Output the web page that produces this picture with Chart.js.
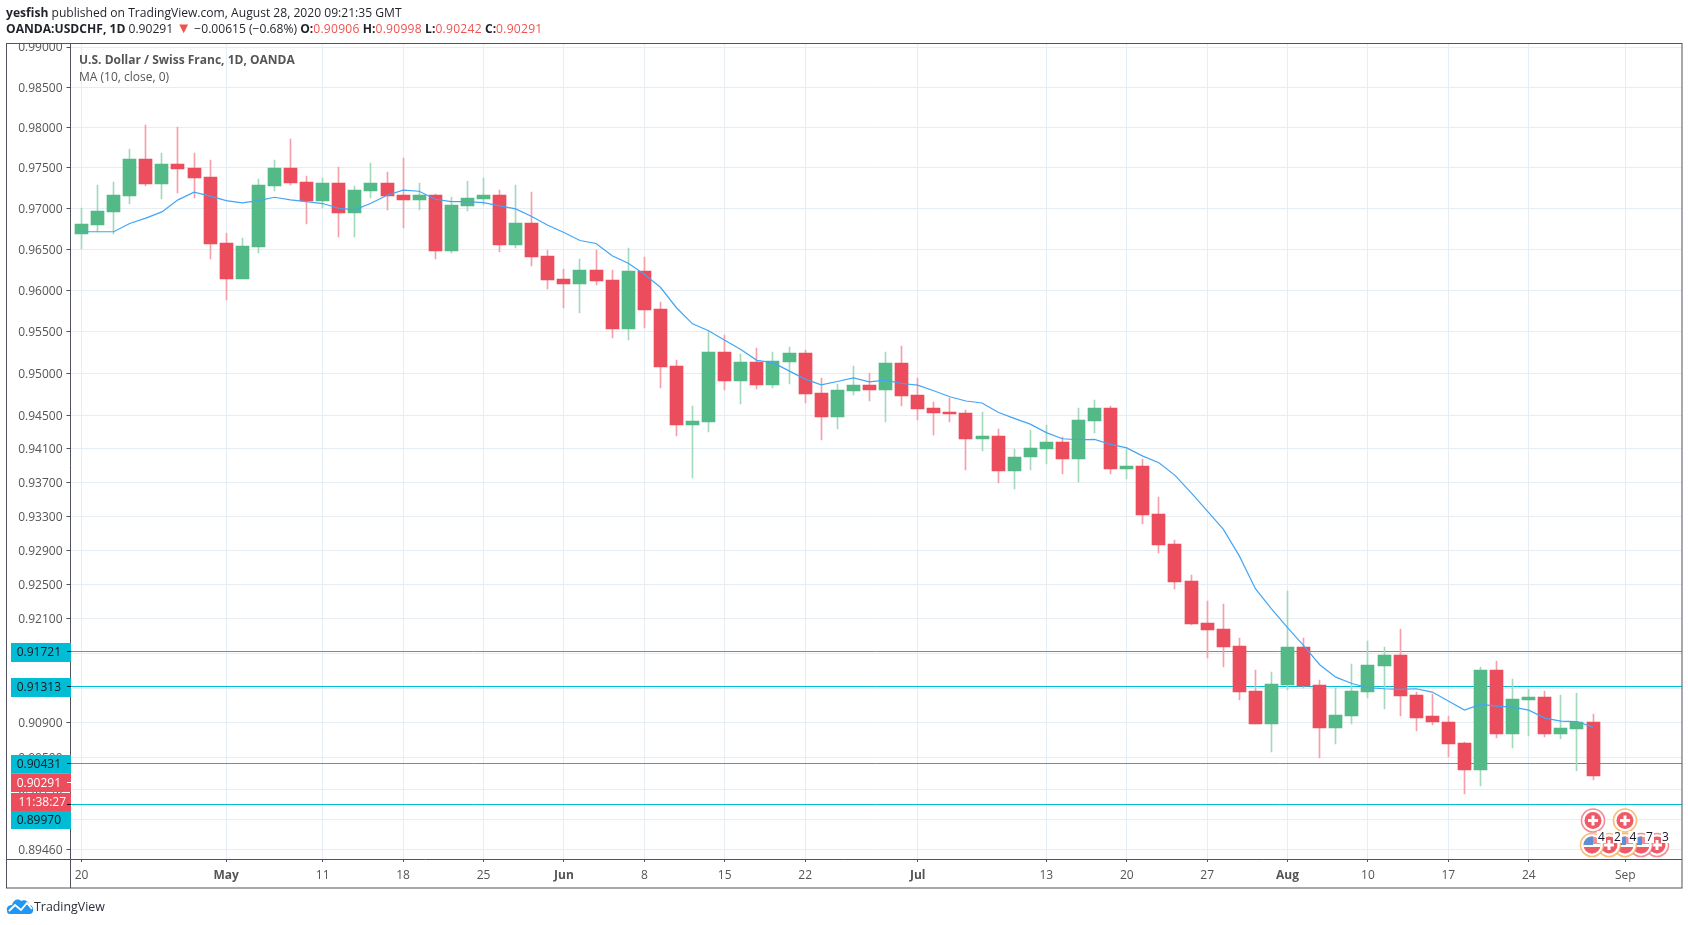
<!DOCTYPE html>
<html>
<head>
<meta charset="utf-8">
<title>OANDA:USDCHF</title>
<script src="https://cdn.jsdelivr.net/npm/chart.js@4"></script>
<style>
  html, body { margin: 0; padding: 0; background: #fff; width: 1688px; height: 925px; overflow: hidden; }
  body { font-family: "Open Sans", sans-serif; color: #1f2229; position: relative; }
  canvas { position: absolute; left: 0; top: 0; }
  .line { position: absolute; left: 6px; font-size: 12.1px; white-space: nowrap; line-height: 16px; }
  .red { color: #ef5350; letter-spacing: 0.25px; }
  .arrow { font-size: 15px; line-height: 12px; letter-spacing: 0; }
  #logo { position: absolute; left: 6px; top: 897px; }
  #logoText { position: absolute; left: 34px; top: 897px; font-size: 12.4px; line-height: 20px; color: #2a2e39; }
</style>
</head>
<body>
<canvas id="chart" width="1688" height="925"></canvas>
<div class="line" style="top:5px"><b>yesfish</b> published on TradingView.com, August 28, 2020 09:21:35 GMT</div>
<div class="line" style="top:21px"><b>OANDA:USDCHF, 1D</b> 0.90291 <span class="red arrow">▼</span> −0.00615 (−0.68%) <b>O:</b><span class="red">0.90906</span> <b>H:</b><span class="red">0.90998</span> <b>L:</b><span class="red">0.90242</span> <b>C:</b><span class="red">0.90291</span></div>
<svg id="logo" width="28" height="18" viewBox="0 0 28 18">
  <path d="M1 14 C0 10 3 8 6 8 C7 3 12 1 15 4 C18 2 23 4 23 8 C26 8 28 11 27 14 C27 16 25 17 24 17 L4 17 C2 17 1 16 1 14 Z" fill="#2196f3"/>
  <path d="M3 14 L9 8 L15 13 L21 6 L26 12" fill="none" stroke="#fff" stroke-width="1.8"/>
</svg>
<div id="logoText">TradingView</div>
<script>
// daily candles from 20 Apr 2020 to 28 Aug 2020
const opens = [
  0.96688, 0.96798, 0.96960, 0.97157, 0.97610, 0.97300, 0.97545, 0.97496, 0.97385, 0.96579,
  0.96141, 0.96530, 0.97274, 0.97496, 0.97324, 0.97090, 0.97312, 0.96943, 0.97213, 0.97312,
  0.97164, 0.97103, 0.97164, 0.96482, 0.97028, 0.97115, 0.97164, 0.96555, 0.96822, 0.96419,
  0.96138, 0.96077, 0.96248, 0.96126, 0.95541, 0.96236, 0.95772, 0.95087, 0.94383, 0.94419,
  0.95254, 0.94909, 0.95135, 0.94861, 0.95135, 0.95242, 0.94766, 0.94480, 0.94790, 0.94861,
  0.94802, 0.95123, 0.94742, 0.94587, 0.94540, 0.94528, 0.94213, 0.94250, 0.93833, 0.93998,
  0.94104, 0.94177, 0.93986, 0.94431, 0.94589, 0.93857, 0.93892, 0.93328, 0.92975, 0.92539,
  0.92057, 0.91987, 0.91789, 0.91262, 0.90892, 0.91331, 0.91778, 0.91331, 0.90835, 0.90973,
  0.91250, 0.91559, 0.91685, 0.91215, 0.90973, 0.90915, 0.90664, 0.90365, 0.91513, 0.90767,
  0.91158, 0.91192, 0.90767, 0.90824, 0.90906,
];
const highs = [
  0.97012, 0.97288, 0.97325, 0.97730, 0.98030, 0.97680, 0.98000, 0.97680, 0.97595, 0.96700,
  0.96640, 0.97360, 0.97595, 0.97853, 0.97398, 0.97373, 0.97508, 0.97275, 0.97558, 0.97447,
  0.97620, 0.97312, 0.97176, 0.97139, 0.97336, 0.97373, 0.97226, 0.97287, 0.97201, 0.96500,
  0.96260, 0.96382, 0.96492, 0.96248, 0.96516, 0.96407, 0.95858, 0.95159, 0.94611, 0.95516,
  0.95468, 0.95230, 0.95302, 0.95254, 0.95314, 0.95278, 0.94944, 0.94873, 0.95087, 0.95004,
  0.95254, 0.95326, 0.94944, 0.94659, 0.94706, 0.94564, 0.94540, 0.94334, 0.94104, 0.94322,
  0.94383, 0.94237, 0.94589, 0.94686, 0.94613, 0.94100, 0.93986, 0.93527, 0.93022, 0.92610,
  0.92304, 0.92280, 0.91883, 0.91513, 0.91490, 0.92422, 0.91883, 0.91388, 0.91296, 0.91582,
  0.91845, 0.91778, 0.91987, 0.91250, 0.91227, 0.90973, 0.90675, 0.91548, 0.91616, 0.91399,
  0.91285, 0.91262, 0.91215, 0.91238, 0.90998,
];
const lows = [
  0.96506, 0.96708, 0.96688, 0.97053, 0.97280, 0.97115, 0.97197, 0.97127, 0.96384, 0.95886,
  0.96141, 0.96457, 0.97213, 0.97287, 0.96810, 0.97004, 0.96652, 0.96652, 0.97127, 0.96980,
  0.96761, 0.96980, 0.96384, 0.96457, 0.96968, 0.97041, 0.96470, 0.96518, 0.96299, 0.96016,
  0.95785, 0.95724, 0.96065, 0.95431, 0.95407, 0.95553, 0.94825, 0.94250, 0.93751, 0.94298,
  0.94802, 0.94635, 0.94813, 0.94825, 0.94873, 0.94647, 0.94201, 0.94334, 0.94742, 0.94670,
  0.94419, 0.94611, 0.94443, 0.94266, 0.94419, 0.93845, 0.94080, 0.93692, 0.93622, 0.93845,
  0.93916, 0.93806, 0.93712, 0.94286, 0.93798, 0.93739, 0.93210, 0.92869, 0.92445, 0.92034,
  0.91650, 0.91548, 0.91158, 0.90881, 0.90561, 0.91273, 0.91296, 0.90492, 0.90652, 0.90881,
  0.91181, 0.91061, 0.90977, 0.90812, 0.90870, 0.90504, 0.90087, 0.90179, 0.90721, 0.90607,
  0.90744, 0.90732, 0.90710, 0.90353, 0.90242,
];
const closes = [
  0.96810, 0.96968, 0.97165, 0.97610, 0.97300, 0.97545, 0.97484, 0.97373, 0.96567, 0.96141,
  0.96542, 0.97287, 0.97496, 0.97312, 0.97090, 0.97312, 0.96943, 0.97226, 0.97312, 0.97152,
  0.97103, 0.97164, 0.96482, 0.97041, 0.97127, 0.97164, 0.96555, 0.96822, 0.96409, 0.96126,
  0.96077, 0.96248, 0.96114, 0.95541, 0.96236, 0.95760, 0.95075, 0.94383, 0.94431, 0.95254,
  0.94909, 0.95135, 0.94861, 0.95147, 0.95242, 0.94754, 0.94480, 0.94802, 0.94861, 0.94802,
  0.95123, 0.94730, 0.94575, 0.94528, 0.94516, 0.94213, 0.94250, 0.93833, 0.94009, 0.94116,
  0.94177, 0.93986, 0.94443, 0.94589, 0.93857, 0.93892, 0.93316, 0.92963, 0.92528, 0.92046,
  0.91976, 0.91778, 0.91250, 0.90892, 0.91342, 0.91778, 0.91319, 0.90835, 0.90985, 0.91262,
  0.91570, 0.91685, 0.91204, 0.90961, 0.90904, 0.90652, 0.90365, 0.91513, 0.90767, 0.91169,
  0.91192, 0.90767, 0.90835, 0.90915, 0.90291,
];
const maValues = [
  0.96717, 0.96717, 0.96717, 0.96818, 0.96883, 0.96960, 0.97107, 0.97201, 0.97152, 0.97098,
  0.97070, 0.97098, 0.97139, 0.97107, 0.97086, 0.97062, 0.97004, 0.96984, 0.97066, 0.97164,
  0.97226, 0.97213, 0.97115, 0.97086, 0.97086, 0.97074, 0.97033, 0.96996, 0.96903, 0.96797,
  0.96707, 0.96610, 0.96573, 0.96423, 0.96333, 0.96199, 0.96041, 0.95793, 0.95598, 0.95516,
  0.95401, 0.95290, 0.95159, 0.95131, 0.95032, 0.94933, 0.94865, 0.94905, 0.94948, 0.94901,
  0.94921, 0.94881, 0.94861, 0.94794, 0.94722, 0.94671, 0.94647, 0.94536, 0.94464, 0.94395,
  0.94294, 0.94221, 0.94209, 0.94213, 0.94153, 0.94112, 0.94014, 0.93935, 0.93786, 0.93582,
  0.93367, 0.93151, 0.92837, 0.92453, 0.92218, 0.91999, 0.91790, 0.91570, 0.91426, 0.91353,
  0.91304, 0.91292, 0.91285, 0.91292, 0.91254, 0.91150, 0.91046, 0.91112, 0.91092, 0.91081,
  0.91046, 0.90954, 0.90919, 0.90915, 0.90850,
];

const levels = [0.91721, 0.91313, 0.90431, 0.89970];
const yTicks = [0.99, 0.985, 0.98, 0.975, 0.97, 0.965, 0.96, 0.955, 0.95, 0.945, 0.941, 0.937,
  0.933, 0.929, 0.925, 0.921, 0.917, 0.913, 0.909, 0.905, 0.9014, 0.898, 0.8946];
const xTickBars = [0, 9, 15, 20, 25, 30, 35, 40, 45, 52, 60, 65, 70, 75, 80, 85, 90, 96];
const xTickLabels = ["20", "May", "11", "18", "25", "Jun", "8", "15", "22", "Jul", "13", "20", "27", "Aug", "10", "17", "24", "Sep"];
const boldMonths = ["May", "Jun", "Jul", "Aug"];

const xMin = -0.684;
const xMax = 99.53;
const up = "#53b987";
const down = "#eb4d5c";
const upWick = "#a3d9bd";
const downWick = "#f5a0a9";
const cyan = "#00bcd4";
const gridCol = "#e6eef3";
const frameCol = "#50535e";
const font = '"Open Sans", sans-serif';

// snap candles and level lines to whole pixels, otherwise they go blurry
const snapMarks = {
  id: "snapMarks",
  beforeDatasetsDraw(chart) {
    chart.data.datasets.forEach((ds, i) => {
      const meta = chart.getDatasetMeta(i);
      if (ds.snap === "bar") {
        meta.data.forEach((el) => {
          el.x = Math.floor(el.x) + 0.5;
          el.y = Math.round(el.y);
          el.base = Math.round(el.base);
        });
      }
      if (ds.snap === "line") {
        meta.data.forEach((el) => { el.y = Math.floor(el.y) + 0.5; });
      }
    });
  },
};

function priceBox(ctx, y0, y1, bg, fg, text) {
  ctx.fillStyle = bg;
  ctx.fillRect(11, y0, 60, y1 - y0);
  ctx.fillStyle = fg;
  ctx.font = "12px " + font;
  ctx.textAlign = "right";
  ctx.textBaseline = "middle";
  ctx.fillText(text, text.includes(":") ? 66 : 61, (y0 + y1) / 2 + 0.5);
}

function eventIcon(ctx, x, y, ring, kind) {
  ctx.save();
  ctx.fillStyle = "#fff";
  ctx.beginPath();
  ctx.arc(x, y, 11.5, 0, Math.PI * 2);
  ctx.fill();
  ctx.strokeStyle = ring;
  ctx.lineWidth = 1.6;
  ctx.globalAlpha = 0.7;
  ctx.stroke();
  ctx.globalAlpha = 1;
  ctx.beginPath();
  ctx.arc(x, y, 8.5, 0, Math.PI * 2);
  ctx.clip();
  if (kind === "flag") {
    ctx.fillStyle = "#f28b95";
    ctx.fillRect(x - 9, y - 9, 18, 18);
    ctx.fillStyle = "#fff";
    ctx.fillRect(x - 9, y - 1, 18, 3);
    ctx.fillStyle = "#ef5a68";
    ctx.fillRect(x - 9, y + 2, 18, 7);
    ctx.fillStyle = "#5b8fd8";
    ctx.fillRect(x - 9, y - 9, 10, 9);
  } else {
    ctx.fillStyle = "#ef5a68";
    ctx.fillRect(x - 9, y - 9, 18, 18);
    ctx.fillStyle = "#fff";
    ctx.fillRect(x - 5, y - 1.5, 10, 3);
    ctx.fillRect(x - 1.5, y - 5, 3, 10);
  }
  ctx.restore();
}

const overlay = {
  id: "overlay",
  afterDraw(chart) {
    const ctx = chart.ctx;
    const y = chart.scales.y;
    ctx.save();

    // the top tick label is cut by the frame
    ctx.clearRect(0, 0, 1688, 43);

    ctx.strokeStyle = frameCol;
    ctx.lineWidth = 1;
    ctx.strokeRect(6.5, 43.5, 1675.5, 844.5);
    ctx.beginPath();
    ctx.moveTo(70.5, 43.5);
    ctx.lineTo(70.5, 888);
    ctx.moveTo(6.5, 859.5);
    ctx.lineTo(1682, 859.5);
    ctx.stroke();

    ctx.fillStyle = "#555";
    ctx.textAlign = "left";
    ctx.textBaseline = "middle";
    ctx.font = "bold 12px " + font;
    ctx.fillText("U.S. Dollar / Swiss Franc, 1D, OANDA", 79, 61);
    ctx.font = "12px " + font;
    ctx.fillText("MA (10, close, 0)", 79, 78);

    // price labels on the axis
    priceBox(ctx, 643, 662, cyan, "#131722", levels[0].toFixed(5));
    priceBox(ctx, 678, 697, cyan, "#131722", levels[1].toFixed(5));
    priceBox(ctx, 755, 773.5, cyan, "#131722", levels[2].toFixed(5));
    priceBox(ctx, 811, 829, cyan, "#131722", levels[3].toFixed(5));
    priceBox(ctx, 773.5, 792, down, "#fff", closes[closes.length - 1].toFixed(5));
    priceBox(ctx, 793, 811, down, "#fff", "11:38:27");

    // ticks next to the labels
    ctx.fillStyle = "#131722";
    levels.forEach((v) => ctx.fillRect(67, Math.floor(y.getPixelForValue(v)), 4, 1));
    ctx.fillStyle = "#fff";
    ctx.fillRect(67, 782, 4, 1);

    // event markers bottom right
    eventIcon(ctx, 1593, 820.5, "#ef5a68", "plus");
    eventIcon(ctx, 1625, 820.5, "#f7a23b", "plus");
    eventIcon(ctx, 1657, 845, "#ef5a68", "plus");
    eventIcon(ctx, 1641, 845, "#ef5a68", "flag");
    eventIcon(ctx, 1625, 845, "#f7a23b", "flag");
    eventIcon(ctx, 1609, 845, "#f7a23b", "plus");
    eventIcon(ctx, 1592, 845, "#f7a23b", "flag");
    ctx.font = "12px " + font;
    ctx.textAlign = "center";
    [[1601.5, "4"], [1617.5, "2"], [1633, "4"], [1649.5, "7"], [1665.5, "3"]].forEach(([x, t]) => {
      ctx.fillStyle = "#fff";
      ctx.fillRect(x - 4.5, 831, 9, 12);
      ctx.fillStyle = "#131722";
      ctx.fillText(t, x, 837.5);
    });

    ctx.restore();
  },
};

const bars = opens.map((_, i) => i);

new Chart(document.getElementById("chart"), {
  data: {
    datasets: [
      {
        type: "line",
        label: "MA (10, close, 0)",
        data: bars.map((i) => ({ x: i, y: maValues[i] })),
        borderColor: "#42a5f5",
        borderWidth: 1.2,
        pointRadius: 0,
        tension: 0,
        order: 0,
      },
      {
        type: "bar",
        label: "body",
        snap: "bar",
        data: bars.map((i) => ({ x: i, y: [opens[i], closes[i]] })),
        backgroundColor: bars.map((i) => (closes[i] >= opens[i] ? up : down)),
        barThickness: 13,
        grouped: false,
        borderSkipped: false,
        order: 1,
      },
      {
        type: "bar",
        label: "wick",
        snap: "bar",
        data: bars.map((i) => ({ x: i, y: [lows[i], highs[i]] })),
        backgroundColor: bars.map((i) => (closes[i] >= opens[i] ? upWick : downWick)),
        barThickness: 1,
        grouped: false,
        borderSkipped: false,
        order: 2,
      },
      ...levels.map((v) => ({
        type: "line",
        label: v.toFixed(5),
        snap: "line",
        data: [{ x: xMin, y: v }, { x: xMax, y: v }],
        borderColor: cyan,
        borderWidth: 1,
        pointRadius: 0,
        order: 3,
      })),
    ],
  },
  options: {
    responsive: false,
    animation: false,
    layout: { padding: { left: 6.5, top: 43.5, right: 6, bottom: 37 } },
    plugins: { legend: { display: false }, tooltip: { enabled: false } },
    scales: {
      x: {
        type: "linear",
        min: xMin,
        max: xMax,
        offset: false,
        afterFit: (s) => { s.height = 29; },
        afterBuildTicks: (s) => { s.ticks = xTickBars.map((v) => ({ value: v })); },
        grid: { offset: false, color: gridCol, lineWidth: 1, tickColor: frameCol, tickLength: 3, drawTicks: true },
        border: { display: false },
        ticks: {
          autoSkip: false,
          maxRotation: 0,
          color: "#555",
          padding: 6,
          font: (c) => {
            const label = xTickLabels[xTickBars.indexOf(c.tick ? c.tick.value : -1)];
            return { family: font, size: 12, weight: boldMonths.includes(label) ? "bold" : "normal" };
          },
          callback: (v) => xTickLabels[xTickBars.indexOf(v)],
        },
      },
      y: {
        type: "logarithmic",
        min: 0.8935,
        max: 0.99044,
        bounds: "data",
        position: "left",
        afterFit: (s) => { s.width = 64; },
        afterBuildTicks: (s) => { s.ticks = yTicks.map((v) => ({ value: v })); },
        grid: { color: gridCol, lineWidth: 1, tickColor: frameCol, tickLength: 4 },
        border: { display: false },
        ticks: {
          autoSkip: false,
          color: "#555",
          padding: 4,
          labelOffset: 1,
          font: { family: font, size: 12 },
          callback: (v) => v.toFixed(5),
        },
      },
    },
  },
  plugins: [snapMarks, overlay],
});
</script>
</body>
</html>
